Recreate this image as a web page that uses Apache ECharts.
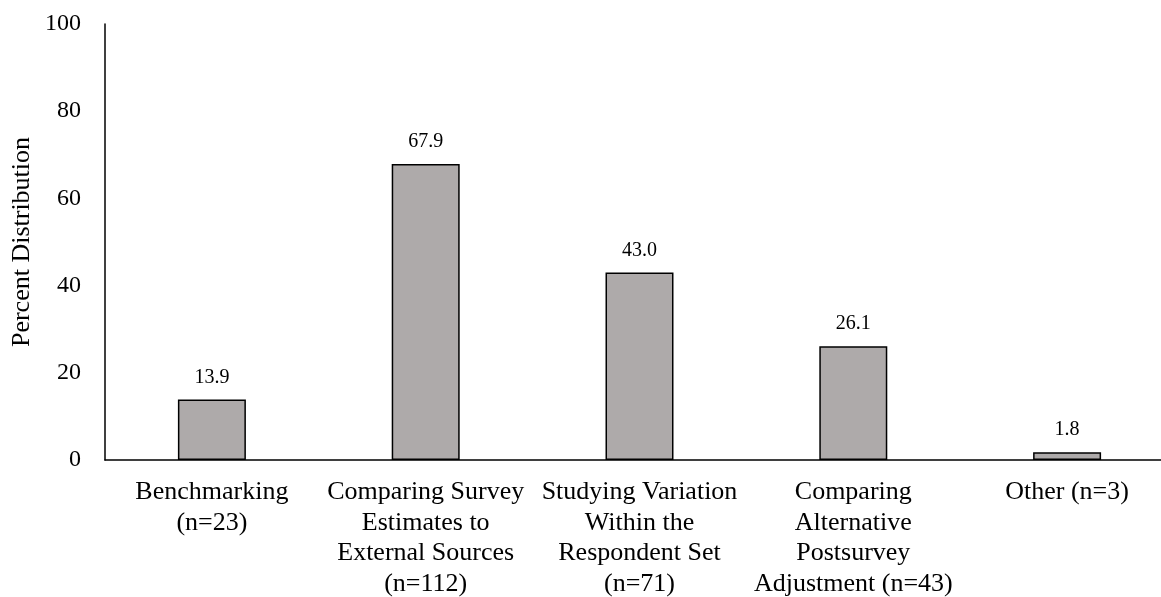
<!DOCTYPE html>
<html>
<head>
<meta charset="utf-8">
<script src="https://cdn.jsdelivr.net/npm/echarts@6/dist/echarts.min.js"></script>
<style>html,body{margin:0;padding:0;background:#fff;}#c{width:1161px;height:597px;}</style>
</head>
<body>
<div id="c"></div>
<script>
const categories = [
  "Benchmarking\n(n=23)",
  "Comparing Survey\nEstimates to\nExternal Sources\n(n=112)",
  "Studying Variation\nWithin the\nRespondent Set\n(n=71)",
  "Comparing\nAlternative\nPostsurvey\nAdjustment (n=43)",
  "Other (n=3)"
];
const values = [13.9, 67.9, 43.0, 26.1, 1.8];
const yTicks = { min: 0, max: 100, interval: 20 };
const yTitle = "Percent Distribution";

const FONT = '"Liberation Serif", "Times New Roman", serif';
const chart = echarts.init(document.getElementById('c'), null, { renderer: 'canvas' });
chart.setOption({
  animation: false,
  backgroundColor: '#fff',
  grid: { left: 105, right: -13, top: 24, bottom: 137, containLabel: false, outerBoundsMode: 'none' },
  xAxis: {
    type: 'category',
    data: categories,
    axisLine: { show: true, lineStyle: { color: '#000', width: 1.5 } },
    axisTick: { show: false },
    axisLabel: {
      interval: 0, color: '#000', fontFamily: FONT, fontSize: 26,
      lineHeight: 30.5, margin: 17, align: 'center', hideOverlap: false
    }
  },
  yAxis: {
    type: 'value',
    min: yTicks.min, max: yTicks.max, interval: yTicks.interval,
    name: yTitle, nameLocation: 'middle', nameGap: 70, nameRotate: 90,
    nameMoveOverlap: false,
    nameTextStyle: { color: '#000', fontFamily: FONT, fontSize: 26 },
    axisLine: { show: true, lineStyle: { color: '#000', width: 1.5 } },
    axisTick: { show: false },
    splitLine: { show: false },
    axisLabel: { color: '#000', fontFamily: FONT, fontSize: 24, margin: 24 }
  },
  series: [{
    type: 'bar',
    data: values,
    barWidth: '31.8%',
    itemStyle: { color: '#aeaaaa', borderColor: '#000', borderWidth: 1.5 },
    label: {
      show: true, position: 'top', distance: 12,
      color: '#000', fontFamily: FONT, fontSize: 20,
      formatter: p => p.value.toFixed(1)
    }
  }]
});
</script>
</body>
</html>
